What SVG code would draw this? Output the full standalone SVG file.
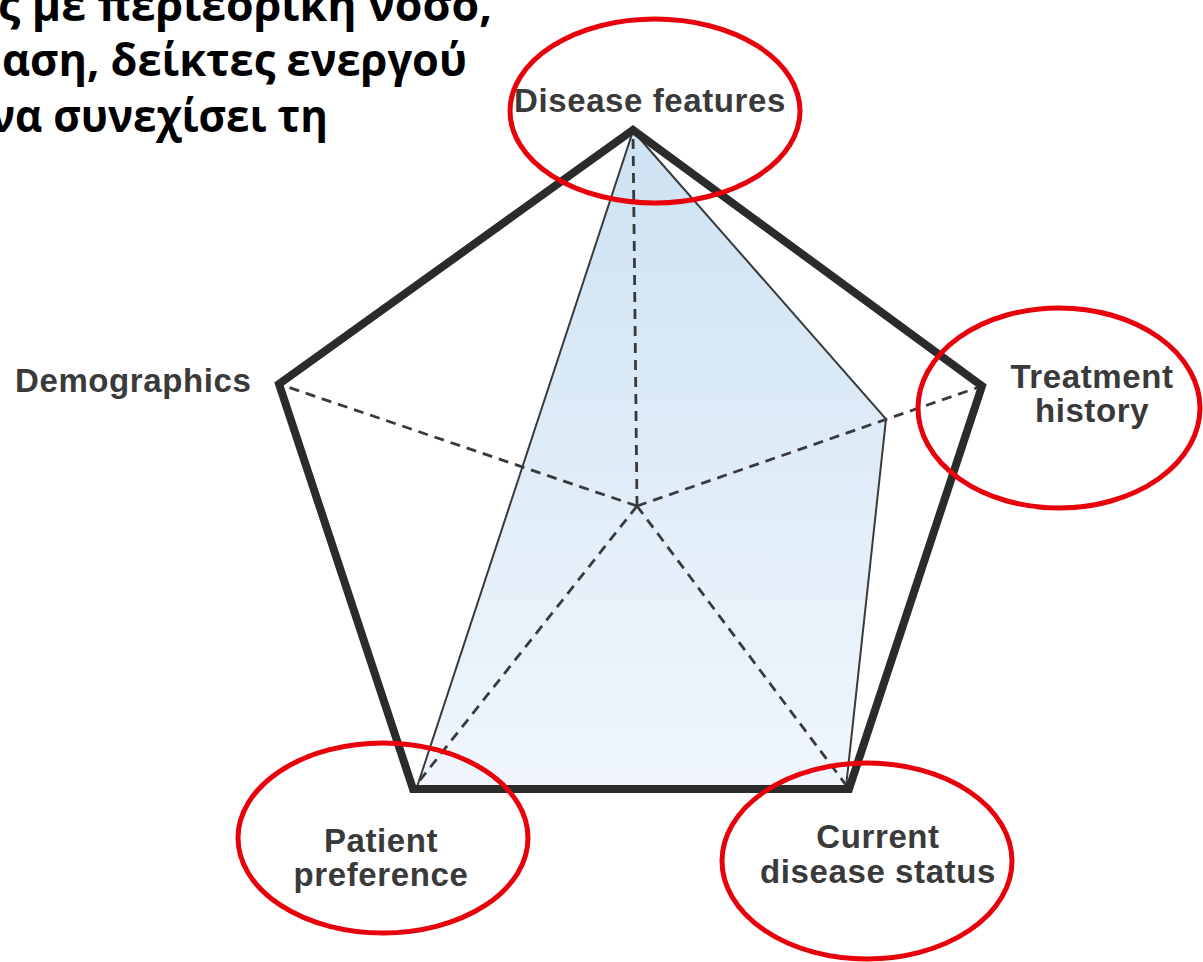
<svg xmlns="http://www.w3.org/2000/svg" width="1203" height="962" viewBox="0 0 1203 962">
<defs>
<linearGradient id="blueFill" x1="0" y1="0" x2="0" y2="1">
<stop offset="0" stop-color="#cde2f3"/>
<stop offset="1" stop-color="#f0f6fc"/>
</linearGradient>
<style>
.greek{font-family:"Open Sans","Noto Sans",sans-serif;font-weight:bold;font-size:44px;fill:#000}
.lbl{font-family:"Liberation Sans",Arial,sans-serif;font-weight:bold;font-size:33px;fill:#3a3a3a;letter-spacing:0.6px}
.pent{fill:none;stroke:#2b2b2b;stroke-width:8;stroke-linejoin:miter}
.dash{stroke:#3a3a3a;stroke-width:2.8;stroke-dasharray:10 7;fill:none}
.red{fill:none;stroke:#e8000b;stroke-width:5}
</style>
</defs>
<rect width="1203" height="962" fill="#ffffff"/>
<g id="heading">
<text class="greek" x="-2" y="21" textLength="494" lengthAdjust="spacingAndGlyphs">ς με περιεορική νόσο,</text>
<text class="greek" x="2" y="76" textLength="465" lengthAdjust="spacingAndGlyphs">αση, δείκτες ενεργού</text>
<text class="greek" x="-10" y="132" textLength="338" lengthAdjust="spacingAndGlyphs">να συνεχίσει τη</text>
</g>
<g id="profile">
<polygon points="633,131 886,419 846,787 417,787" fill="url(#blueFill)" stroke="#3a3a3a" stroke-width="2"/>
</g>
<g id="connectors">
<line class="dash" x1="637" y1="506" x2="633" y2="131"/>
<line class="dash" x1="637" y1="506" x2="982" y2="386"/>
<line class="dash" x1="637" y1="506" x2="849" y2="789"/>
<line class="dash" x1="637" y1="506" x2="413" y2="789"/>
<line class="dash" x1="637" y1="506" x2="279" y2="384"/>
</g>
<g id="pentagon">
<polygon class="pent" points="633,130 982,386 849,789 413,789 279,384"/>
</g>
<g id="node-disease-features">
<text class="lbl" x="650" y="112" text-anchor="middle">Disease features</text>
<ellipse class="red" cx="655" cy="111" rx="145" ry="92"/>
</g>
<g id="node-demographics">
<text class="lbl" x="15" y="392">Demographics</text>
</g>
<g id="node-treatment-history">
<text class="lbl" x="1092" y="388" text-anchor="middle">Treatment</text>
<text class="lbl" x="1092" y="422" text-anchor="middle">history</text>
<ellipse class="red" cx="1059" cy="408" rx="141" ry="100"/>
</g>
<g id="node-patient-preference">
<text class="lbl" x="381" y="852" text-anchor="middle">Patient</text>
<text class="lbl" x="381" y="886" text-anchor="middle">preference</text>
<ellipse class="red" cx="383" cy="838" rx="145" ry="95"/>
</g>
<g id="node-current-disease-status">
<text class="lbl" x="878" y="848" text-anchor="middle">Current</text>
<text class="lbl" x="878" y="883" text-anchor="middle">disease status</text>
<ellipse class="red" cx="867" cy="861" rx="145" ry="98"/>
</g>
</svg>
